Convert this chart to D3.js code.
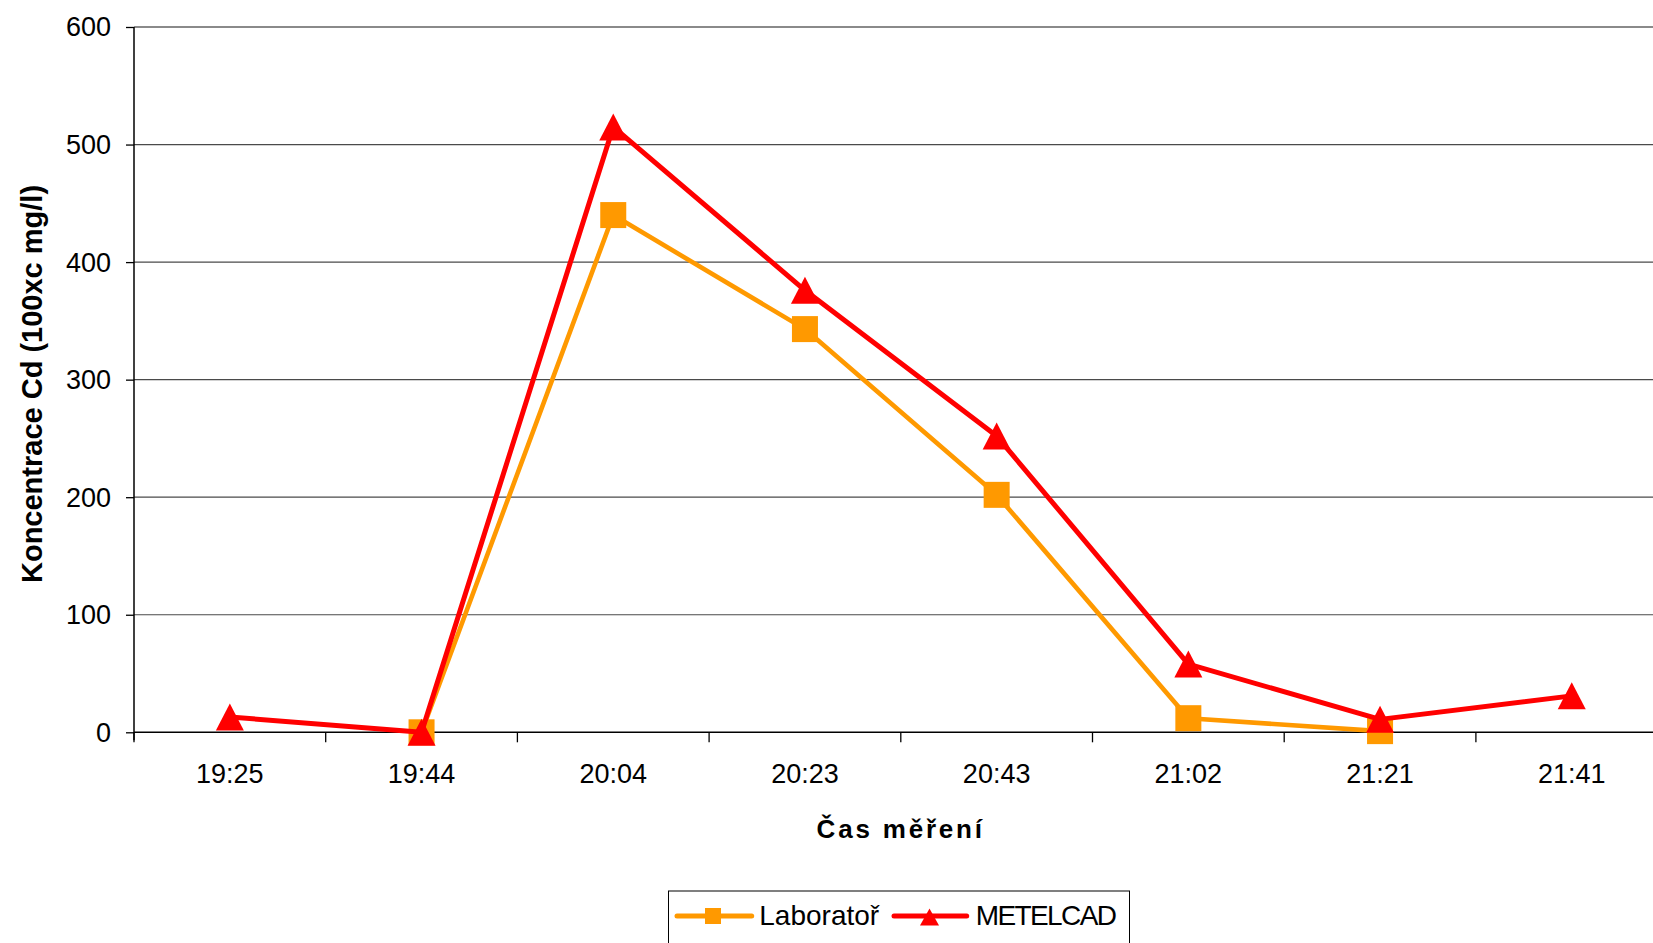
<!DOCTYPE html>
<html>
<head>
<meta charset="utf-8">
<script src="https://cdn.jsdelivr.net/npm/d3@7"></script>
<style>
  html, body { margin: 0; padding: 0; background: #fff; }
  svg { display: block; }
  text { font-family: "Liberation Sans", Arial, sans-serif; fill: #000; }
</style>
</head>
<body>
<svg id="chart" width="1653" height="943"></svg>
<script>
// ---- data ----
const categories = ["19:25", "19:44", "20:04", "20:23", "20:43", "21:02", "21:21", "21:41"];
const laboratorValues = [null, 0, 440, 343, 202, 12, 1, null];
const metelcadValues  = [13, 0, 515, 376, 252, 58, 11, 31];
const yTicks = [0, 100, 200, 300, 400, 500, 600];
const seriesNames = ["Laboratoř", "METELCAD"];
const yTitle = "Koncentrace Cd (100xc mg/l)";
const xTitle = "Čas měření";

(function () {
// ---- layout ----
const pL = 134, pR = 1667.6, pT = 27, pB = 732.3;
const orange = "#FF9900", red = "#FF0000";

const svg = d3.select("#chart");

const x = d3.scaleBand().domain(categories).range([pL, pR]).paddingInner(0).paddingOuter(0);
const cx = d => x(d) + x.bandwidth() / 2;
const y = d3.scaleLinear().domain([0, 600]).range([pB, pT]);

// gridlines
svg.append("g").selectAll("line").data(yTicks.filter(v => v > 0)).join("line")
  .attr("x1", pL).attr("x2", pR)
  .attr("y1", d => y(d)).attr("y2", d => y(d))
  .attr("stroke", d => d === 600 ? "#8a8a8a" : "#4a4a4a")
  .attr("stroke-width", d => d === 600 ? 2 : 1.2);

// y axis
const yAxis = svg.append("g").attr("transform", `translate(${pL},0)`)
  .call(d3.axisLeft(y).tickValues(yTicks).tickSize(8).tickPadding(15).tickFormat(d3.format("d")));
yAxis.select(".domain").remove();
yAxis.selectAll(".tick line").attr("stroke", "#000").attr("stroke-width", 1.3);
yAxis.selectAll(".tick text")
  .attr("font-size", 27).attr("font-family", "Liberation Sans, Arial, sans-serif")
  .attr("dy", "0.33em");
svg.append("line").attr("x1", pL).attr("x2", pL).attr("y1", pT).attr("y2", pB + 8)
  .attr("stroke", "#000").attr("stroke-width", 1.5);

// x axis
const xAxis = svg.append("g").attr("transform", `translate(0,${pB})`)
  .call(d3.axisBottom(x).tickSize(0).tickPadding(0));
xAxis.select(".domain").remove();
xAxis.selectAll(".tick text")
  .attr("font-size", 27).attr("font-family", "Liberation Sans, Arial, sans-serif")
  .attr("y", 50.4).attr("dy", 0);
svg.append("line").attr("x1", pL).attr("x2", pR).attr("y1", pB).attr("y2", pB)
  .attr("stroke", "#000").attr("stroke-width", 1.5);
const boundaries = categories.map(d => x(d)).concat([pR]);
svg.append("g").selectAll("line").data(boundaries).join("line")
  .attr("x1", d => d).attr("x2", d => d).attr("y1", pB).attr("y2", pB + 10)
  .attr("stroke", "#000").attr("stroke-width", 1.3);

// titles
svg.append("text")
  .attr("transform", `translate(41.5,384) rotate(-90)`)
  .attr("text-anchor", "middle")
  .attr("font-size", 29).attr("font-weight", "bold")
  .text(yTitle);
svg.append("text")
  .attr("x", 900.7).attr("y", 837.5)
  .attr("text-anchor", "middle")
  .attr("font-size", 26).attr("font-weight", "bold").attr("letter-spacing", 2.8)
  .text(xTitle);

// series
const line = d3.line().defined(d => d.v != null).x(d => cx(d.c)).y(d => y(d.v));
const labData = categories.map((c, i) => ({ c, v: laboratorValues[i] }));
const metData = categories.map((c, i) => ({ c, v: metelcadValues[i] }));

const triPath = (w, h) => `M0,${-h / 2}L${w / 2},${h / 2}L${-w / 2},${h / 2}Z`;

svg.append("path").datum(labData).attr("d", line)
  .attr("fill", "none").attr("stroke", orange).attr("stroke-width", 4.6).attr("stroke-linejoin", "round");
svg.append("g").selectAll("rect").data(labData.filter(d => d.v != null)).join("rect")
  .attr("x", d => cx(d.c) - 13).attr("y", d => y(d.v) - 13)
  .attr("width", 26).attr("height", 26).attr("fill", orange);

svg.append("path").datum(metData).attr("d", line)
  .attr("fill", "none").attr("stroke", red).attr("stroke-width", 5).attr("stroke-linejoin", "round");
svg.append("g").selectAll("path").data(metData.filter(d => d.v != null)).join("path")
  .attr("transform", d => `translate(${cx(d.c)},${y(d.v)})`)
  .attr("d", triPath(28, 27)).attr("fill", red);

// legend
const lg = svg.append("g");
lg.append("rect").attr("x", 668.5).attr("y", 891).attr("width", 461).attr("height", 70)
  .attr("fill", "#fff").attr("stroke", "#000").attr("stroke-width", 1);
lg.append("line").attr("x1", 677).attr("x2", 751.7).attr("y1", 916).attr("y2", 916)
  .attr("stroke", orange).attr("stroke-width", 5).attr("stroke-linecap", "round");
lg.append("rect").attr("x", 705).attr("y", 908).attr("width", 16).attr("height", 16).attr("fill", orange);
lg.append("text").attr("x", 759.3).attr("y", 925).attr("font-size", 28).text(seriesNames[0]);
lg.append("line").attr("x1", 894).attr("x2", 966.7).attr("y1", 916).attr("y2", 916)
  .attr("stroke", red).attr("stroke-width", 5).attr("stroke-linecap", "round");
lg.append("path").attr("transform", "translate(929.5,917)").attr("d", triPath(19, 17)).attr("fill", red);
lg.append("text").attr("x", 975.7).attr("y", 925).attr("font-size", 28).attr("letter-spacing", -1.6).text(seriesNames[1]);
})();
</script>
</body>
</html>
